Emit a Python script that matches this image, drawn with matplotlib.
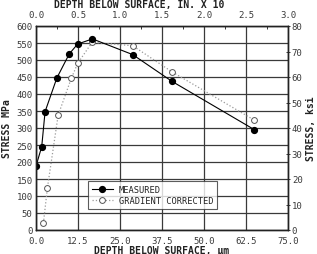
import matplotlib
matplotlib.use("Agg")
import matplotlib.pyplot as plt
from matplotlib.ticker import MultipleLocator

# ---- data ----
meas_depth = [0.0, 1.7, 2.7, 6.2, 9.9, 12.4, 16.8, 28.75, 40.5, 65.0]
meas_stress = [188, 245, 348, 447, 518, 547, 562, 516, 437, 295]
grad_depth = [2.2, 3.4, 6.6, 10.5, 12.4, 16.7, 28.75, 40.5, 65.0]
grad_stress = [20, 124, 338, 446, 490, 552, 542, 465, 323]

x_ticks = [0.0, 12.5, 25.0, 37.5, 50.0, 62.5, 75.0]
top_ticks = [0.0, 0.5, 1.0, 1.5, 2.0, 2.5, 3.0]
y_ticks = list(range(0, 601, 50))
ksi_ticks = list(range(0, 81, 10))

W, H = 317, 255
fig = plt.figure(figsize=(W / 100, H / 100), dpi=100)
L, R, T, B = 36, 288, 27, 231
ax = fig.add_axes([L / W, 1 - B / H, (R - L) / W, (B - T) / H])

mono = "DejaVu Sans Mono"
tick_fs = 6.5
lab_fs = 7.0
tcol = "#3a3a3a"

ax.set_xlim(0, 75)
ax.set_ylim(0, 600)
ax.set_xticks(x_ticks)
ax.set_xticklabels([f"{v:.1f}" for v in x_ticks])
ax.set_yticks(y_ticks)
ax.set_yticklabels([str(v) for v in y_ticks])
ax.grid(True, color="#3a3a3a", lw=0.9, zorder=0)
ax.set_axisbelow(True)
ax.tick_params(axis="both", length=0, labelsize=tick_fs, labelcolor=tcol)
ax.tick_params(axis="x", pad=4.5)
ax.tick_params(axis="y", pad=2.5)
for lbl in ax.get_xticklabels() + ax.get_yticklabels():
    lbl.set_fontfamily(mono)
for s in ax.spines.values():
    s.set_linewidth(0.9)
    s.set_color("#222222")

ax.plot(meas_depth, meas_stress, "-", color="black", lw=0.8,
        marker="o", ms=4.2, mfc="black", mec="black", label="MEASURED",
        zorder=4, clip_on=True)
ax.plot(grad_depth, grad_stress, ":", color="#9a9a9a", lw=0.9,
        marker="o", ms=4.2, mfc="white", mec="#555555", mew=0.7,
        label="GRADIENT CORRECTED", zorder=3)

leg = ax.legend(loc="lower left", bbox_to_anchor=(0.206, 0.103),
                borderaxespad=0, frameon=True, fancybox=False,
                prop={"family": mono, "size": 6.3}, handlelength=2.4,
                handletextpad=0.7, borderpad=0.45, labelspacing=0.2)
leg.get_frame().set_edgecolor("#333333")
leg.get_frame().set_linewidth(0.8)
for t in leg.get_texts():
    t.set_color("#222222")

# top axis (inches x 10^-3)
axt = ax.twiny()
axt.set_xlim(0, 3.0)
axt.set_xticks(top_ticks)
axt.set_xticklabels([f"{v:.1f}" for v in top_ticks])
axt.xaxis.set_minor_locator(MultipleLocator(0.25))
axt.tick_params(axis="x", which="major", length=0, pad=5,
                labelsize=tick_fs, labelcolor=tcol)
axt.tick_params(axis="x", which="minor", length=2.5, direction="in",
                width=0.7, color="#333333")
for lbl in axt.get_xticklabels():
    lbl.set_fontfamily(mono)

# right axis (ksi)
axr = ax.twinx()
axr.set_ylim(0, 80)
axr.set_yticks(ksi_ticks)
axr.set_yticklabels([str(v) for v in ksi_ticks])
axr.tick_params(axis="y", length=2.5, direction="inout", width=0.7,
                pad=1.5, labelsize=tick_fs, labelcolor=tcol, color="#333333")
for lbl in axr.get_yticklabels():
    lbl.set_fontfamily(mono)
for a in (axt, axr):
    for s in a.spines.values():
        s.set_linewidth(0.9)
        s.set_color("#222222")

# labels
fig.text(54 / W, 1 - 8 / H, "DEPTH BELOW SURFACE, IN. X 10", ha="left",
         va="baseline", family=mono, weight="bold", size=lab_fs, color="#222222")
fig.text((L + R) / 2 / W, 1 - 246 / H, "DEPTH BELOW SURFACE, \u00b5m", ha="center",
         va="top", family=mono, weight="bold", size=lab_fs, color="#222222")
fig.text(7 / W, 1 - 129 / H, "STRESS MPa", rotation=90, ha="center",
         va="center", family=mono, weight="bold", size=lab_fs, color="#222222")
fig.text(311 / W, 1 - 129 / H, "STRESS, ksi", rotation=90, ha="center",
         va="center", family=mono, weight="bold", size=lab_fs, color="#222222")

fig.savefig("out.png", dpi=100)
